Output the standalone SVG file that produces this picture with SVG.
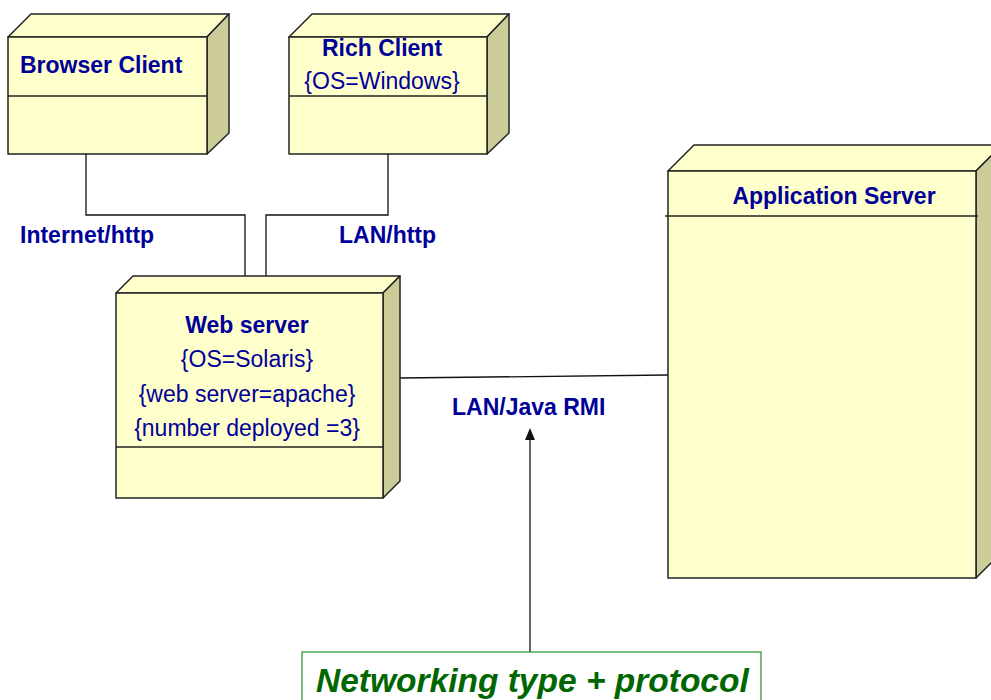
<svg xmlns="http://www.w3.org/2000/svg" width="991" height="700" viewBox="0 0 991 700">
  <defs>
    <style>
      .face { fill: #FFFFCC; stroke: #222; stroke-width: 1.5; stroke-linejoin: round; }
      .side { fill: #CCCC99; stroke: #222; stroke-width: 1.5; stroke-linejoin: round; }
      .div { stroke: #222; stroke-width: 1.5; fill: none; }
      .wire { stroke: #111; stroke-width: 1.3; fill: none; }
      .title { font-family: "Liberation Sans", Arial, sans-serif; font-weight: bold; font-size: 23px; fill: #000099; }
      .prop { font-family: "Liberation Sans", Arial, sans-serif; font-size: 23px; fill: #000099; }
      .lbl { font-family: "Liberation Sans", Arial, sans-serif; font-weight: bold; font-size: 23px; fill: #000099; }
      .note { font-family: "Liberation Sans", Arial, sans-serif; font-weight: bold; font-style: italic; font-size: 33.5px; fill: #006600; }
    </style>
    <marker id="arrowHead" viewBox="0 0 10 12" refX="5" refY="0" markerWidth="10" markerHeight="12" markerUnits="userSpaceOnUse" orient="auto-start-reverse">
      <path d="M5,0 L10,12 L0,12 Z" fill="#111"/>
    </marker>
  </defs>

  <!-- communication paths -->
  <g id="connectors">
    <polyline class="wire" points="86,154 86,215 245,215 245,276"/>
    <polyline class="wire" points="388,154 388,215 266,215 266,276"/>
    <line class="wire" x1="400" y1="378" x2="668" y2="375"/>
    <line class="wire" x1="530" y1="652" x2="530" y2="440"/>
    <path d="M530,428 L535,440 L525,440 Z" fill="#111"/>
    <text class="lbl" x="20" y="243">Internet/http</text>
    <text class="lbl" x="339" y="243">LAN/http</text>
    <text class="lbl" x="452" y="415">LAN/Java RMI</text>
  </g>

  <!-- Browser Client node -->
  <g id="browser-client">
    <polygon class="face" points="8,37 31,14 229,14 207,37"/>
    <polygon class="side" points="207,37 229,14 229,133 207,154"/>
    <rect class="face" x="8" y="37" width="199" height="117"/>
    <line class="div" x1="8" y1="96" x2="207" y2="96"/>
    <text class="title" x="20" y="73">Browser Client</text>
  </g>

  <!-- Rich Client node -->
  <g id="rich-client">
    <polygon class="face" points="289,37 312,14 509,14 487,37"/>
    <polygon class="side" points="487,37 509,14 509,133 487,154"/>
    <rect class="face" x="289" y="37" width="198" height="117"/>
    <line class="div" x1="289" y1="96" x2="487" y2="96"/>
    <text class="title" x="382" y="56" text-anchor="middle">Rich Client</text>
    <text class="prop" x="382" y="89" text-anchor="middle">{OS=Windows}</text>
  </g>

  <!-- Web server node -->
  <g id="web-server">
    <polygon class="face" points="116,293 133,276 400,276 383,293"/>
    <polygon class="side" points="383,293 400,276 400,481 383,498"/>
    <rect class="face" x="116" y="293" width="267" height="205"/>
    <line class="div" x1="116" y1="447" x2="383" y2="447"/>
    <text class="title" x="247" y="333" text-anchor="middle">Web server</text>
    <text class="prop" x="247" y="367" text-anchor="middle">{OS=Solaris}</text>
    <text class="prop" x="247" y="402" text-anchor="middle">{web server=apache}</text>
    <text class="prop" x="247" y="436" text-anchor="middle">{number deployed =3}</text>
  </g>

  <!-- Application Server node -->
  <g id="application-server">
    <polygon class="face" points="668,171 694,145 1002,145 976,171"/>
    <polygon class="side" points="976,171 1002,145 1002,552 976,578"/>
    <rect class="face" x="668" y="171" width="308" height="407"/>
    <line class="div" x1="665" y1="216" x2="978" y2="216"/>
    <text class="title" x="834" y="204" text-anchor="middle">Application Server</text>
  </g>

  <!-- annotation -->
  <g id="note">
    <rect x="302" y="652" width="459" height="60" fill="#FFFFFF" stroke="#339933" stroke-width="1.3"/>
    <text class="note" x="316" y="692">Networking type + protocol</text>
  </g>
</svg>
